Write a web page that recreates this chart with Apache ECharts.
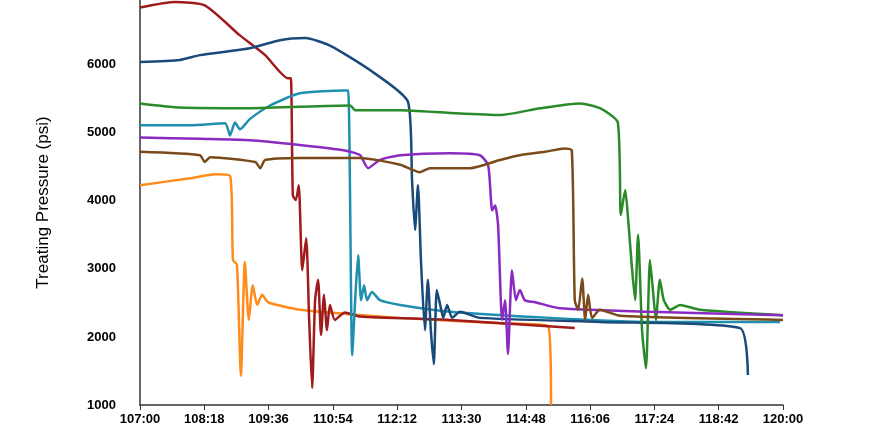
<!DOCTYPE html>
<html><head><meta charset="utf-8">
<script src="https://cdn.jsdelivr.net/npm/echarts@6/dist/echarts.min.js"></script>
<style>html,body{margin:0;padding:0;background:#fff}#c{width:881px;height:441px}</style>
</head><body><div id="c"></div>
<script>
const xTicks=[107,108.3,109.6,110.9,112.2,113.5,114.8,116.1,117.4,118.7,120];
const orange=[[107,4230],[108.01,4330],[108.52,4390],[108.82,4370],[108.88,3130],[108.96,3060],[109.04,1430],[109.12,3100],[109.20,2250],[109.28,2760],[109.37,2470],[109.47,2620],[109.59,2510],[110.23,2400],[112.26,2280],[114.28,2200],[115.25,2160],[115.31,1000]];
const darkred=[[107,6840],[107.71,6920],[108.31,6870],[109.02,6430],[109.53,6140],[109.99,5800],[110.05,5800],[110.09,4080],[110.15,4010],[110.21,4230],[110.28,2980],[110.36,3450],[110.42,2250],[110.48,1250],[110.54,2540],[110.60,2840],[110.66,2030],[110.72,2620],[110.78,2100],[110.84,2470],[110.94,2250],[111.14,2360],[111.45,2300],[113.27,2250],[115.79,2130]];
const teal=[[107,5110],[108.01,5110],[108.72,5140],[108.82,4960],[108.92,5150],[109.02,5050],[109.22,5200],[109.63,5400],[110.23,5580],[111.14,5620],[111.21,5620],[111.29,1730],[111.35,2540],[111.41,3200],[111.47,2540],[111.53,2760],[111.59,2540],[111.69,2660],[111.85,2540],[112.26,2470],[113.27,2370],[115.29,2280],[117.31,2220],[119.94,2220]];
const navy=[[107,6040],[107.81,6070],[108.21,6140],[109.22,6240],[109.83,6360],[110.34,6390],[110.84,6280],[111.65,5920],[112.42,5450],[112.50,4300],[112.56,3570],[112.62,4230],[112.68,3130],[112.76,2100],[112.82,2840],[112.88,2100],[112.94,1600],[113.00,2690],[113.07,2470],[113.13,2280],[113.21,2470],[113.31,2280],[113.47,2370],[113.87,2280],[116.30,2220],[119.13,2130],[119.29,1440]];
const green=[[107,5430],[107.81,5370],[109.22,5360],[111.25,5400],[111.35,5330],[111.55,5330],[112.26,5330],[113.27,5290],[114.28,5260],[115.09,5360],[115.90,5430],[116.30,5360],[116.66,5150],[116.72,3790],[116.81,4160],[116.87,3720],[116.95,2980],[117.01,2540],[117.07,3500],[117.15,2100],[117.23,1540],[117.31,3130],[117.37,2690],[117.43,2250],[117.51,2840],[117.59,2540],[117.72,2400],[117.92,2470],[118.32,2400],[120,2320]];
const purple=[[107,4930],[108.21,4910],[109.22,4890],[110.23,4820],[111.14,4740],[111.45,4670],[111.61,4480],[111.85,4600],[112.26,4670],[113.27,4700],[113.87,4670],[114.04,4520],[114.12,3860],[114.18,3930],[114.24,3640],[114.32,2250],[114.38,2540],[114.44,1750],[114.52,2980],[114.60,2540],[114.68,2690],[114.78,2540],[114.99,2510],[115.49,2420],[117.31,2370],[120,2320]];
const brown=[[107,4720],[108.21,4670],[108.31,4570],[108.42,4640],[109.33,4570],[109.43,4480],[109.53,4600],[110.23,4630],[111.45,4630],[112.26,4530],[112.66,4420],[112.86,4480],[113.67,4480],[114.28,4600],[114.68,4670],[115.19,4720],[115.59,4770],[115.73,4740],[115.79,2540],[115.86,2400],[115.94,2860],[116.00,2250],[116.06,2620],[116.14,2280],[116.30,2400],[116.70,2310],[120,2250]];
const seriesDefs=[["orange",orange,"#ff8c1a"],["darkred",darkred,"#a01c1c"],["teal",teal,"#1f8fb0"],["navy",navy,"#1a4a7a"],["green",green,"#2a8a2a"],["purple",purple,"#8a2ac0"],["brown",brown,"#7a4a1a"]];
const fmt=v=>{const h=Math.floor(v+1e-6);const m=Math.round((v-h)*60);return h+':'+(m<10?'0':'')+m;};
const chart=echarts.init(document.getElementById('c'));
chart.setOption({
  animation:false,
  grid:{left:140,right:98,top:0,bottom:36},
  xAxis:{type:'value',min:107,max:120,
    axisLine:{lineStyle:{color:'#333',width:1.5}},
    axisTick:{show:true,customValues:xTicks,length:5,lineStyle:{color:'#333'}},
    axisLabel:{customValues:xTicks,formatter:fmt,color:'#000',fontSize:13,fontWeight:'bold',fontFamily:'Liberation Sans',margin:8},
    splitLine:{show:false}},
  yAxis:{type:'value',min:1000,max:6950,interval:1000,
    name:'Treating Pressure (psi)',nameLocation:'middle',nameGap:88,nameRotate:90,
    nameTextStyle:{color:'#000',fontSize:17,fontFamily:'Liberation Sans'},
    axisLine:{show:true,lineStyle:{color:'#333',width:1.5}},
    axisTick:{show:false},
    axisLabel:{showMaxLabel:false,formatter:v=>String(v),color:'#000',fontSize:13,fontWeight:'bold',fontFamily:'Liberation Sans',margin:24},
    splitLine:{show:false}},
  series:seriesDefs.map(([n,d,c])=>({name:n,type:'line',data:d,showSymbol:false,smooth:0.2,lineStyle:{color:c,width:2.5},itemStyle:{color:c}}))
});
</script></body></html>
